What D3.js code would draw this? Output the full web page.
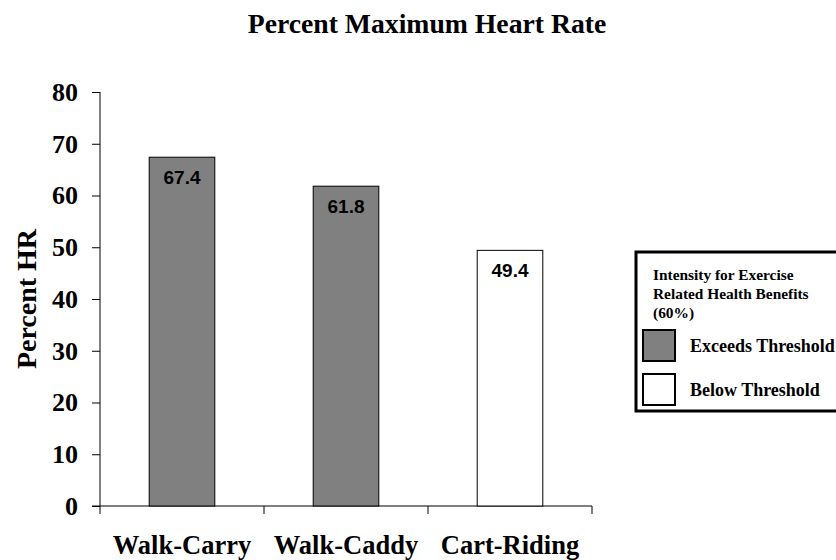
<!DOCTYPE html>
<html>
<head>
<meta charset="utf-8">
<script src="https://cdn.jsdelivr.net/npm/d3@7"></script>
<style>
  body { margin: 0; background: #fff; }
  svg { display: block; }
  .serif { font-family: "Times New Roman", "Liberation Serif", serif; font-weight: bold; }
  .sans { font-family: Arial, "Liberation Sans", sans-serif; font-weight: bold; }
</style>
</head>
<body>
<div id="viz"></div>
<script>
// data
const categories = ['Walk-Carry', 'Walk-Caddy', 'Cart-Riding']
const values = [67.4, 61.8, 49.4]
const yTicks = [0, 10, 20, 30, 40, 50, 60, 70, 80]
const threshold = 60
const legendTitle = ['Intensity for Exercise', 'Related Health Benefits', '(60%)']
const legendItems = ['Exceeds Threshold', 'Below Threshold']

const width = 836
const height = 560
const margin = { left: 100, top: 92, right: 244, bottom: 54 }

const svg = d3.select('#viz')
  .append('svg')
    .attr('width', width)
    .attr('height', height)

const x = d3.scaleBand()
  .domain(categories)
  .range([margin.left, width - margin.right])
  .paddingInner(0.6)
  .paddingOuter(0.3)

const y = d3.scaleLinear()
  .domain([0, 80])
  .range([height - margin.bottom, margin.top])

const fillFor = v => v >= threshold ? '#808080' : '#ffffff'

// title
svg.append('text')
  .attr('class', 'serif')
  .attr('x', 427)
  .attr('y', 33)
  .attr('text-anchor', 'middle')
  .attr('font-size', 27.7)
  .text('Percent Maximum Heart Rate')

// y axis
const yAxis = svg.append('g')
  .attr('transform', 'translate(' + margin.left + ',0)')
  .call(d3.axisLeft(y).tickValues(yTicks).tickSize(8).tickPadding(14).tickFormat(d3.format('d')))
yAxis.select('.domain').attr('d', 'M0,' + y(80) + 'V' + y(0))
yAxis.selectAll('text')
  .attr('class', 'serif')
  .attr('font-size', 26)
  .attr('fill', '#000')

svg.append('text')
  .attr('class', 'serif')
  .attr('transform', 'translate(36,' + ((y(0) + y(80)) / 2) + ') rotate(-90)')
  .attr('text-anchor', 'middle')
  .attr('font-size', 28)
  .text('Percent HR')

// x axis: ticks at band boundaries
const bounds = [margin.left].concat(categories.map(c => x(c) + x.bandwidth() + x.step() * x.paddingInner() / 2))
bounds[bounds.length - 1] = width - margin.right
const xAxis = svg.append('g')
  .attr('transform', 'translate(0,' + y(0) + ')')
xAxis.append('line')
  .attr('x1', margin.left - 8).attr('x2', width - margin.right)
  .attr('stroke', '#000')
xAxis.selectAll('.xt')
  .data(bounds)
  .join('line')
    .attr('x1', d => d).attr('x2', d => d)
    .attr('y1', 0).attr('y2', 8)
    .attr('stroke', '#000')

svg.selectAll('.xlabel')
  .data(categories)
  .join('text')
    .attr('class', 'serif')
    .attr('x', d => x(d) + x.bandwidth() / 2)
    .attr('y', 554)
    .attr('text-anchor', 'middle')
    .attr('font-size', 26.5)
    .text(d => d)

// bars
svg.selectAll('.bar')
  .data(values)
  .join('rect')
    .attr('x', (d, i) => x(categories[i]))
    .attr('y', d => y(d))
    .attr('width', x.bandwidth())
    .attr('height', d => y(0) - y(d))
    .attr('fill', fillFor)
    .attr('stroke', '#000')
    .attr('stroke-width', 1)

svg.selectAll('.val')
  .data(values)
  .join('text')
    .attr('class', 'sans')
    .attr('x', (d, i) => x(categories[i]) + x.bandwidth() / 2)
    .attr('y', d => y(d) + 27)
    .attr('text-anchor', 'middle')
    .attr('font-size', 19)
    .text(d => d.toFixed(1))

// legend
const lg = svg.append('g').attr('transform', 'translate(636,252)')
lg.append('rect')
  .attr('width', 210).attr('height', 159)
  .attr('fill', '#fff').attr('stroke', '#000').attr('stroke-width', 3)
lg.selectAll('.lt')
  .data(legendTitle)
  .join('text')
    .attr('class', 'serif')
    .attr('x', 17)
    .attr('y', (d, i) => 28 + i * 19)
    .attr('font-size', 15.4)
    .text(d => d)
const items = lg.selectAll('.li')
  .data(legendItems)
  .join('g')
    .attr('transform', (d, i) => 'translate(7,' + (78 + i * 44) + ')')
items.append('rect')
  .attr('width', 32).attr('height', 31)
  .attr('fill', (d, i) => i === 0 ? '#808080' : '#fff')
  .attr('stroke', '#000').attr('stroke-width', 2)
items.append('text')
  .attr('class', 'serif')
  .attr('x', 47)
  .attr('y', 22)
  .attr('font-size', 18)
  .text(d => d)
</script>
</body>
</html>
